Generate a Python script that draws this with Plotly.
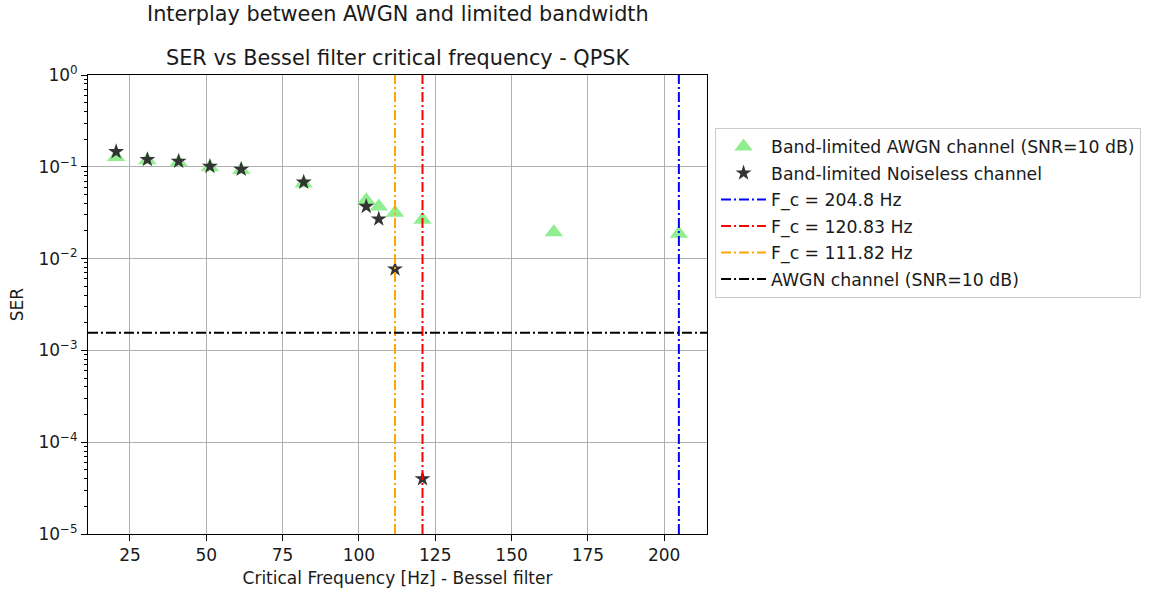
import plotly.graph_objects as go

# Bessel filter critical frequencies (Hz) and measured symbol error rates
fc_awgn = [20.48, 30.72, 40.96, 51.2, 61.44, 81.92, 102.4, 106.5, 111.82, 120.83, 163.84, 204.8]
ser_awgn = [0.128, 0.118, 0.112, 0.099, 0.092, 0.0656, 0.0433, 0.037, 0.0316, 0.0265, 0.0194, 0.0186]

fc_noiseless = [20.48, 30.72, 40.96, 51.2, 61.44, 81.92, 102.4, 106.5, 111.82, 120.83]
ser_noiseless = [0.146, 0.120, 0.115, 0.101, 0.094, 0.068, 0.037, 0.027, 0.0077, 4.0e-5]

# Marked critical frequencies
cutoff_freqs = [204.8, 120.83, 111.82]
cutoff_colors = ["blue", "red", "orange"]

# Theoretical SER of QPSK over an AWGN channel at SNR = 10 dB
ser_awgn_only = 0.00156

y_tickvals = [1, 1e-1, 1e-2, 1e-3, 1e-4, 1e-5]
y_ticktext = ["10<sup>0</sup>", "10<sup>\u22121</sup>", "10<sup>\u22122</sup>",
              "10<sup>\u22123</sup>", "10<sup>\u22124</sup>", "10<sup>\u22125</sup>"]
x_tickvals = [25, 50, 75, 100, 125, 150, 175, 200]

FONT = "DejaVu Sans"
TXT = "#1a1a1a"
DASHDOT = "10px,3px,2px,3px"

# x range with a 5% margin around the data, like the default autoscale
x_lo = min(fc_awgn + cutoff_freqs)
x_hi = max(fc_awgn + cutoff_freqs)
pad = 0.05 * (x_hi - x_lo)
x_range = [x_lo - pad, x_hi + pad]
y_range = [1e-5, 1]

fig = go.Figure()

fig.add_trace(go.Scatter(
    x=fc_awgn, y=ser_awgn, mode="markers",
    name="Band-limited AWGN channel (SNR=10 dB)",
    marker=dict(symbol="triangle-up", size=16, color="#90EE90"),
    legendgroup="a",
))
fig.add_trace(go.Scatter(
    x=fc_noiseless, y=ser_noiseless, mode="markers",
    name="Band-limited Noiseless channel",
    marker=dict(symbol="star", size=12, color="#333333"),
    legendgroup="b",
))
for i, (fc, col) in enumerate(zip(cutoff_freqs, cutoff_colors)):
    fig.add_trace(go.Scatter(
        x=[fc, fc], y=y_range, mode="lines",
        name=f"F_c = {fc} Hz",
        line=dict(color=col, width=2, dash=DASHDOT),
        legendgroup=f"c{i}",
    ))
fig.add_trace(go.Scatter(
    x=x_range, y=[ser_awgn_only, ser_awgn_only], mode="lines",
    name="AWGN channel (SNR=10 dB)",
    line=dict(color="black", width=2, dash=DASHDOT),
    legendgroup="d",
))

axis_common = dict(
    showline=True, linecolor="black", linewidth=1, mirror=True,
    ticks="outside", ticklen=6, tickcolor="black",
    showgrid=True, gridcolor="#b0b0b0", gridwidth=1,
    zeroline=False,
    tickfont=dict(family=FONT, size=17, color=TXT),
)

fig.update_xaxes(
    range=x_range, tickvals=x_tickvals,
    title=dict(text="Critical Frequency [Hz] - Bessel filter",
               font=dict(family=FONT, size=17, color=TXT), standoff=7),
    **axis_common,
)
fig.update_yaxes(
    type="log", range=[-5, 0], tickvals=y_tickvals, ticktext=y_ticktext,
    minor=dict(ticks="outside", ticklen=3, tickcolor="black", showgrid=False, dtick="D1"),
    title=dict(text="SER", font=dict(family=FONT, size=17, color=TXT), standoff=10),
    **axis_common,
)

fig.add_annotation(text="Interplay between AWGN and limited bandwidth",
                   xref="paper", yref="paper", x=0.5, y=1.132,
                   xanchor="center", yanchor="middle", showarrow=False,
                   font=dict(family=FONT, size=20.8, color=TXT))
fig.add_annotation(text="SER vs Bessel filter critical frequency - QPSK",
                   xref="paper", yref="paper", x=0.5, y=1.037,
                   xanchor="center", yanchor="middle", showarrow=False,
                   font=dict(family=FONT, size=20.8, color=TXT))

fig.update_layout(
    width=1153, height=596,
    margin=dict(l=88, r=445, t=75, b=60),
    plot_bgcolor="white", paper_bgcolor="white",
    showlegend=True,
    legend=dict(
        x=1.013, y=0.885, xanchor="left", yanchor="top",
        bordercolor="#cccccc", borderwidth=1, bgcolor="white",
        font=dict(family=FONT, size=17.3, color=TXT),
        itemwidth=45, tracegroupgap=1,
    ),
)

fig.write_html("out.html")
